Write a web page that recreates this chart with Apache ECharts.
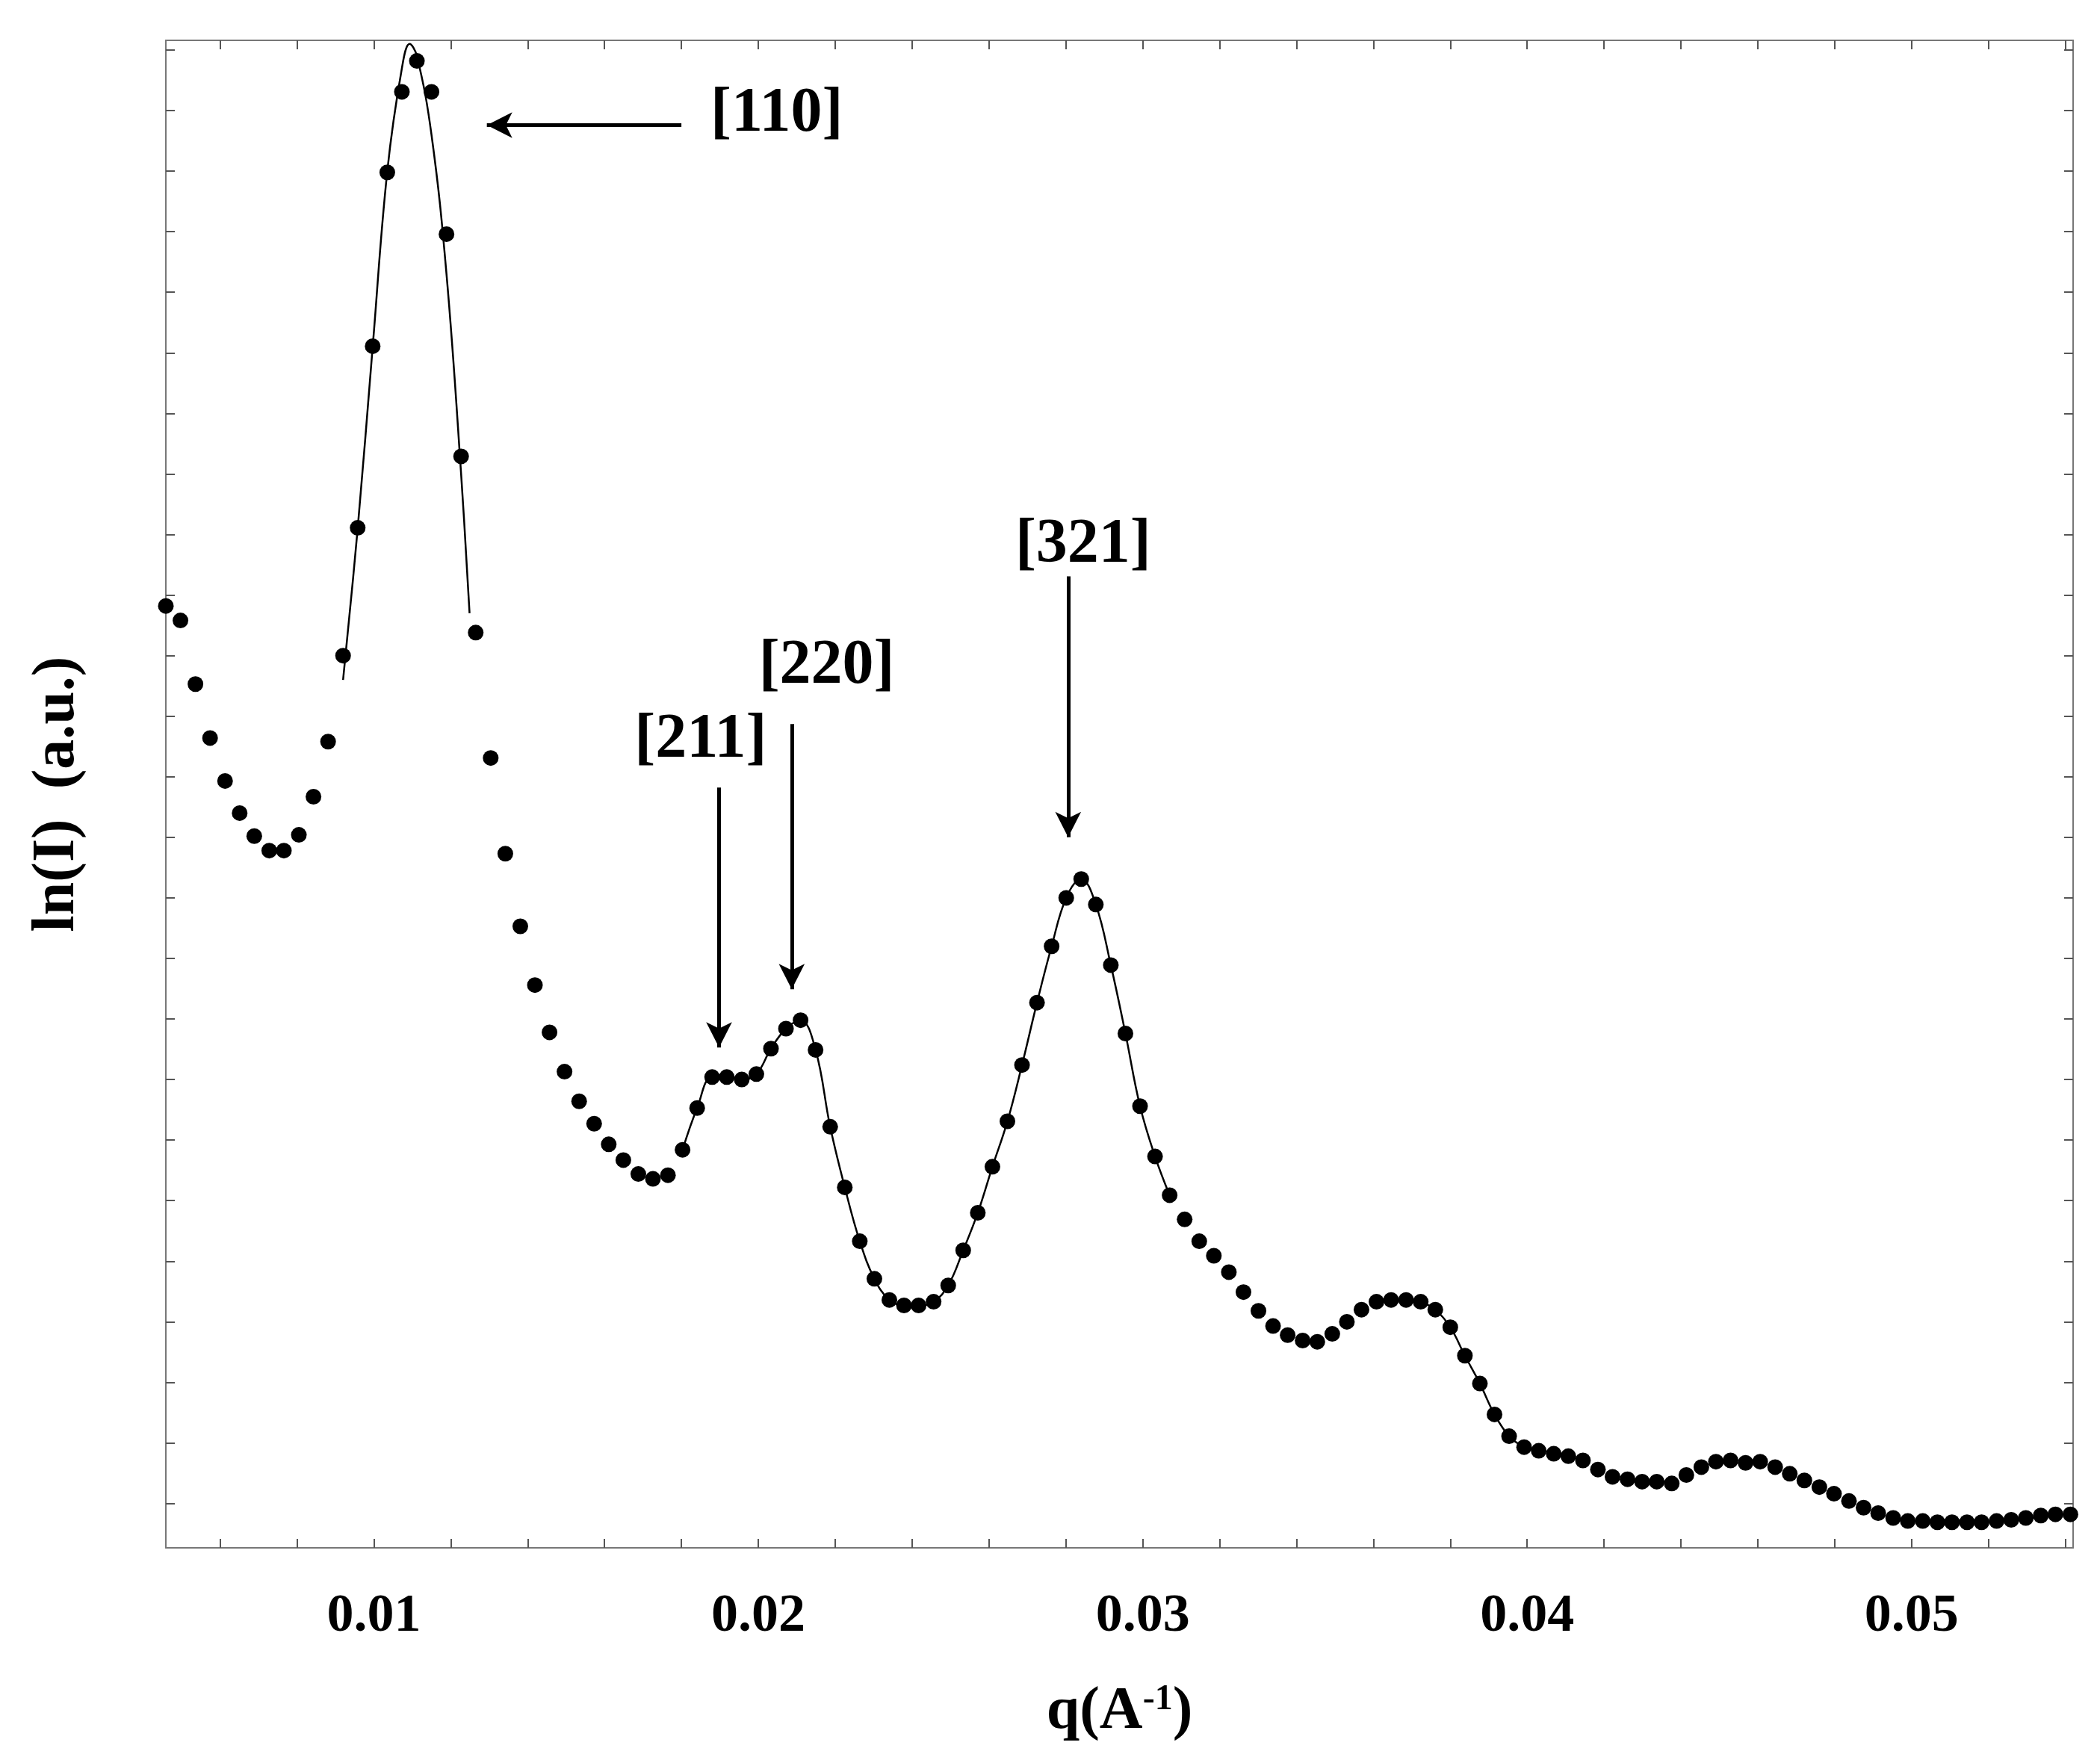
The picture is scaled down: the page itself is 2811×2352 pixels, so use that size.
<!DOCTYPE html>
<html>
<head>
<meta charset="utf-8">
<script src="https://cdn.jsdelivr.net/npm/echarts@6/dist/echarts.min.js"></script>
<style>html,body{margin:0;padding:0;background:#fff}#chart{width:2811px;height:2352px}</style>
</head>
<body>
<div id="chart"></div>
<script>
// scattering vector q (1/A)
let qValues = [.00459,.00497,.00536,.00574,.00613,.00651,.00689,.00728,.00766,.00805,
  .00843,.00881,.00920,.00958,.00997,.01035,.01073,.01112,.01150,.01189,
  .01227,.01265,.01304,.01342,.01381,.01419,.01457,.01496,.01534,.01573,
  .01611,.01649,.01688,.01726,.01765,.01803,.01841,.01880,.01918,.01957,
  .01995,.02033,.02072,.02110,.02149,.02187,.02225,.02264,.02302,.02341,
  .02379,.02417,.02456,.02494,.02533,.02571,.02609,.02648,.02686,.02725,
  .02763,.02801,.02840,.02878,.02917,.02955,.02993,.03032,.03070,.03109,
  .03147,.03185,.03224,.03262,.03301,.03339,.03377,.03416,.03454,.03493,
  .03531,.03569,.03608,.03646,.03685,.03723,.03761,.03800,.03838,.03877,
  .03915,.03953,.03992,.04030,.04069,.04107,.04145,.04184,.04222,.04261,
  .04299,.04337,.04376,.04414,.04453,.04491,.04529,.04568,.04606,.04645,
  .04683,.04721,.04760,.04798,.04837,.04875,.04913,.04952,.04990,.05029,
  .05067,.05105,.05144,.05182,.05221,.05259,.05297,.05336,.05374,.05413];
// ln(I), arbitrary units
let lnI = [14.82,14.58,13.53,12.64,11.93,11.40,11.02,10.78,10.78,11.04,
  11.67,12.58,14.00,16.11,19.11,21.98,23.31,23.82,23.31,20.96,
  17.29,14.38,12.31,10.73,9.53,8.56,7.78,7.13,6.64,6.27,
  5.93,5.67,5.44,5.36,5.42,5.84,6.53,7.04,7.04,7.00,
  7.09,7.51,7.84,7.98,7.49,6.22,5.22,4.33,3.71,3.36,
  3.27,3.27,3.33,3.60,4.18,4.80,5.56,6.31,7.24,8.27,
  9.20,10.00,10.31,9.89,8.89,7.76,6.56,5.73,5.09,4.69,
  4.33,4.09,3.82,3.49,3.18,2.93,2.78,2.69,2.67,2.80,
  3.00,3.20,3.33,3.36,3.36,3.33,3.20,2.91,2.44,1.98,
  1.47,1.11,0.93,0.87,0.82,0.78,0.71,0.56,0.44,0.40,
  0.36,0.36,0.33,0.47,0.60,0.69,0.71,0.67,0.69,0.60,
  0.49,0.38,0.27,0.16,0.04,-0.07,-0.16,-0.24,-0.29,-0.29,
  -0.31,-0.31,-0.31,-0.31,-0.29,-0.27,-0.24,-0.20,-0.18,-0.18];
// fitted curve over the [110] peak
let fit110Q = [.00920,.00958,.00997,.01035,.01073,.01093,.01112,.01150,.01189,.01227,.01249];
let fit110Y = [13.6,16.1,19.1,22.0,23.7,24.1,23.9,22.6,20.3,17.0,14.7];
let xLabels = [0.01,0.02,0.03,0.04,0.05];
let xTicks = [0.006,0.008,0.010,0.012,0.014,0.016,0.018,0.020,0.022,0.024,0.026,0.028,0.030,
  0.032,0.034,0.036,0.038,0.040,0.042,0.044,0.046,0.048,0.050,0.052,0.054];
let yTicks = [0,1,2,3,4,5,6,7,8,9,10,11,12,13,14,15,16,17,18,19,20,21,22,23,24];
// peak annotations: label, label pos, arrow start, arrow end
let peakNames = ['[110]','[211]','[220]','[321]'];
let labelPos = [[.02048,22.93],[.01850,12.6],[.02178,13.82],[.02845,15.82]];
let arrowFrom = [[.01800,22.76],[.01898,11.82],[.02087,12.87],[.02806,15.31]];
let arrowTo = [[.01294,22.76],[.01898,7.53],[.02087,8.49],[.02806,11.0]];

let font = '"Liberation Serif", "Times New Roman", serif';
let points = qValues.map((q,i) => [q, lnI[i]]);
let fit2 = points.slice(35, 69);
let fit3 = points.slice(85, 93);

let chart = echarts.init(document.getElementById('chart'));
let axisCommon = {
  type: 'value', min: 0.00459, max: 0.0542,
  axisLine: {onZero: false, lineStyle: {color: '#777', width: 2}},
  axisTick: {inside: true, length: 12, customValues: xTicks, lineStyle: {color: '#555', width: 2}},
  splitLine: {show: false}
};
let yCommon = {
  type: 'value', min: -0.733, max: 24.16,
  axisLine: {show: true, onZero: false, lineStyle: {color: '#777', width: 2}},
  axisTick: {inside: true, length: 12, customValues: yTicks, lineStyle: {color: '#555', width: 2}},
  axisLabel: {show: false},
  splitLine: {show: false}
};
chart.setOption({
  backgroundColor: '#fff',
  animation: false,
  grid: {left: 222, right: 36, top: 54, bottom: 280},
  xAxis: [
    Object.assign({}, axisCommon, {
      position: 'bottom',
      axisLabel: {customValues: xLabels, margin: 56, fontFamily: font, fontWeight: 'bold', fontSize: 72, color: '#000',
        formatter: v => v.toFixed(2)},
      name: '{n|q(A}{s|-1}{n|)}', nameLocation: 'middle', nameGap: 180,
      nameTextStyle: {rich: {
        n: {fontFamily: font, fontWeight: 'bold', fontSize: 80, color: '#000'},
        s: {fontFamily: font, fontWeight: 'bold', fontSize: 48, color: '#000', verticalAlign: 'top', padding: [0,0,30,0]}
      }}
    }),
    Object.assign({}, axisCommon, {position: 'top', axisLabel: {show: false}})
  ],
  yAxis: [
    Object.assign({}, yCommon, {
      position: 'left', name: 'ln(I)  (a.u.)', nameLocation: 'middle', nameGap: 105,
      nameTextStyle: {fontFamily: font, fontWeight: 'bold', fontSize: 80, color: '#000'}
    }),
    Object.assign({}, yCommon, {position: 'right'})
  ],
  series: [
    {type: 'line', data: fit110Q.map((q,i) => [q, fit110Y[i]]), smooth: 0.4, symbol: 'none',
      lineStyle: {color: '#000', width: 2.5}},
    {type: 'line', data: fit2, smooth: 0.4, symbol: 'none', lineStyle: {color: '#000', width: 2.5}},
    {type: 'line', data: fit3, smooth: 0.4, symbol: 'none', lineStyle: {color: '#000', width: 2.5}},
    {type: 'scatter', data: points, symbolSize: 21, itemStyle: {color: '#000', opacity: 1},
      markLine: {
        silent: true, symbol: ['none', 'arrow'], symbolSize: [26, 34],
        lineStyle: {color: '#000', width: 5, type: 'solid'}, label: {show: false},
        data: arrowFrom.map((a,i) => [{coord: a}, {coord: arrowTo[i]}])
      },
      markPoint: {
        silent: true, symbol: 'circle', symbolSize: 0,
        label: {show: true, position: 'inside', fontFamily: font, fontWeight: 'bold', fontSize: 84, color: '#000',
          formatter: p => p.name},
        data: peakNames.map((n,i) => ({name: n, coord: labelPos[i]}))
      }
    }
  ]
});
</script>
</body>
</html>
